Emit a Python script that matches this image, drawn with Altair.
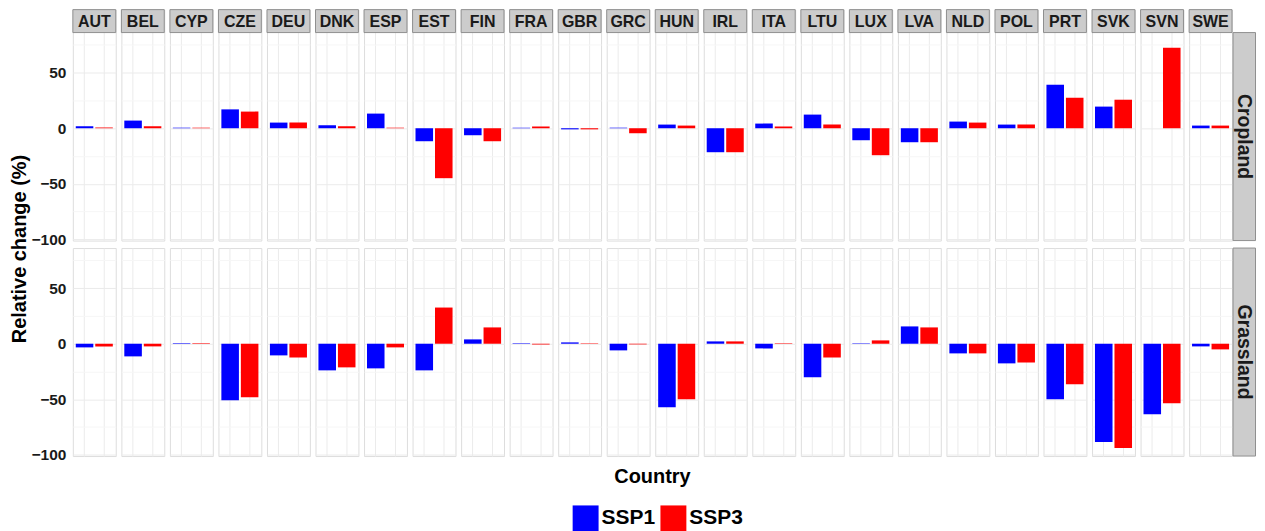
import altair as alt
import pandas as pd

countries = ["AUT", "BEL", "CYP", "CZE", "DEU", "DNK", "ESP", "EST", "FIN", "FRA", "GBR", "GRC",
             "HUN", "IRL", "ITA", "LTU", "LUX", "LVA", "NLD", "POL", "PRT", "SVK", "SVN", "SWE"]
scenarios = ["SSP1", "SSP3"]

crop_ssp1 = [1.8, 6.9, 0.5, 17.0, 5.1, 2.7, 13.2, -11.7, -6.3, 0.5, -1.0, 0.5,
             3.3, -21.6, 4.2, 12.3, -10.8, -12.6, 6.0, 3.3, 39.2, 19.5, 0.0, 2.4]
crop_ssp3 = [0.7, 1.8, 0.5, 15.0, 5.1, 1.8, 0.5, -45.0, -11.7, 1.5, -1.0, -4.5,
             2.4, -21.6, 1.5, 3.3, -24.3, -12.6, 5.1, 3.3, 27.5, 25.7, 72.5, 2.4]
grass_ssp1 = [-3.3, -11.4, 0.5, -50.9, -10.5, -24.0, -22.2, -24.0, 3.9, 0.4, 1.2, -6.0,
              -57.2, 2.1, -4.2, -30.2, 0.4, 15.6, -8.7, -17.7, -50.0, -88.6, -63.5, -2.4]
grass_ssp3 = [-2.4, -2.4, 0.5, -48.2, -12.3, -21.3, -3.3, 32.6, 14.7, -0.6, 0.4, -0.6,
              -50.0, 2.1, 0.4, -12.3, 3.0, 14.7, -8.7, -16.8, -36.5, -94.0, -53.6, -5.1]
y_ticks = [-100, -75, -50, -25, 0, 25, 50, 75]
land_labels = ["Cropland", "Grassland"]


def frame(s1, s3):
    rows = []
    for c, a, b in zip(countries, s1, s3):
        rows.append({"country": c, "scenario": scenarios[0], "value": a})
        rows.append({"country": c, "scenario": scenarios[1], "value": b})
    return pd.DataFrame(rows)


crop_df = frame(crop_ssp1, crop_ssp3)
grass_df = frame(grass_ssp1, grass_ssp3)

FONT = "Liberation Sans"
PANEL_W = 43
PANEL_H = 208.5
STRIP_H = 23
GAP = 5.65
RSTRIP_W = 22.5
Y_LO, Y_HI = -101.2, 86.2
PX_PER_UNIT = PANEL_H / (Y_HI - Y_LO)
TOP_HI = Y_HI + STRIP_H / PX_PER_UNIT
BORDER = "#8f8f8f"
STRIP_FILL = "#cccccc"

color_scale = alt.Scale(domain=scenarios, range=["#0000ff", "#ff0000"])
legend = alt.Legend(
    orient="none", legendX=565, legendY=497, direction="horizontal", title=None,
    symbolType="square", symbolSize=676, symbolStrokeWidth=0, labelFont=FONT,
    labelFontSize=21, labelFontWeight="bold", labelColor="black", labelOffset=3,
    columnPadding=5,
)

x_enc = alt.X(
    "scenario:N", sort=scenarios,
    scale=alt.Scale(paddingInner=0.1, paddingOuter=0.15),
    axis=alt.Axis(labels=False, ticks=False, tickSize=0, labelPadding=0, domain=False,
                  title=None, grid=True, gridColor="#ebebeb", bandPosition=0.5,
                  minExtent=0, maxExtent=0),
)


def y_enc(hi):
    return alt.Y(
        "value:Q",
        scale=alt.Scale(domain=[Y_LO, hi], nice=False, zero=False),
        axis=alt.Axis(
            values=y_ticks, title=None, ticks=False, tickSize=0, domain=False,
            labelExpr="datum.value % 50 === 0 ? datum.label : ''",
            labelFont=FONT, labelFontSize=15.5, labelFontWeight="bold",
            labelColor="#1a1a1a", labelPadding=7,
            gridColor={"condition": {"test": "datum.value % 50 === 0", "value": "#ebebeb"},
                       "value": "#f6f6f6"},
        ),
    )


def bars(hi):
    return alt.Chart().mark_bar().encode(
        x=x_enc,
        y=y_enc(hi),
        y2=alt.datum(0),
        color=alt.Color("scenario:N", scale=color_scale, legend=legend),
    )


strip_rect = alt.Chart().transform_filter(alt.datum.scenario == scenarios[0]).mark_rect(
    fill=STRIP_FILL, stroke=BORDER, strokeWidth=1
).encode(x=alt.value(0), x2=alt.value(PANEL_W), y=alt.value(0), y2=alt.value(STRIP_H))

strip_text = alt.Chart().transform_filter(alt.datum.scenario == scenarios[0]).mark_text(
    font=FONT, fontSize=16, fontWeight="bold", color="#1a1a1a", align="center", baseline="middle"
).encode(x=alt.value(PANEL_W / 2), y=alt.value(STRIP_H / 2 + 0.5), text="country:N")

top_facet = alt.layer(bars(TOP_HI), strip_rect, strip_text, data=crop_df).properties(
    width=PANEL_W, height=PANEL_H + STRIP_H
).facet(
    column=alt.Column("country:N", sort=countries, title=None,
                      header=alt.Header(labels=False, labelPadding=0, titlePadding=0)),
    spacing=GAP,
    bounds="flush",
)

bottom_facet = alt.layer(bars(Y_HI), data=grass_df).properties(
    width=PANEL_W, height=PANEL_H
).facet(
    column=alt.Column(
        "country:N", sort=countries, title="Country",
        header=alt.Header(labels=False, labelPadding=0, labelOrient="bottom",
                          titleOrient="bottom", titleFont=FONT, titleFontSize=20,
                          titleFontWeight="bold", titleColor="black", titlePadding=1),
    ),
    spacing=GAP,
    bounds="flush",
)


def right_strip(label, h, top):
    base = alt.Chart(pd.DataFrame({"label": [label]}))
    rect = base.mark_rect(fill=STRIP_FILL, stroke=BORDER, strokeWidth=1).encode(
        x=alt.value(0), x2=alt.value(RSTRIP_W), y=alt.value(top), y2=alt.value(h)
    )
    txt = base.mark_text(
        angle=90, font=FONT, fontSize=19.5, fontWeight="bold", color="#1a1a1a",
        align="center", baseline="middle"
    ).encode(x=alt.value(RSTRIP_W / 2), y=alt.value((top + h) / 2), text="label:N")
    return alt.layer(rect, txt).properties(
        width=RSTRIP_W, height=h, view=alt.ViewBackground(stroke="transparent")
    )


top_row = alt.hconcat(top_facet, right_strip(land_labels[0], PANEL_H + STRIP_H, STRIP_H), spacing=-2)
bottom_row = alt.hconcat(bottom_facet, right_strip(land_labels[1], PANEL_H, 0), spacing=-2)
main = alt.vconcat(top_row, bottom_row, spacing=-1)

ytitle = alt.Chart(pd.DataFrame({"t": ["Relative change (%)"]})).mark_text(
    angle=270, font=FONT, fontSize=20, fontWeight="bold", color="black",
    align="center", baseline="middle"
).encode(x=alt.value(11), y=alt.value(240), text="t:N").properties(
    width=21, height=440, view=alt.ViewBackground(stroke="transparent")
)

chart = alt.hconcat(ytitle, main, spacing=0).properties(
    padding={"left": 0, "top": 0, "right": 0, "bottom": 0}
).configure_view(stroke=BORDER, strokeWidth=1).configure(background="white")

chart.save("out.html", embed_options={"renderer": "svg", "actions": False})
